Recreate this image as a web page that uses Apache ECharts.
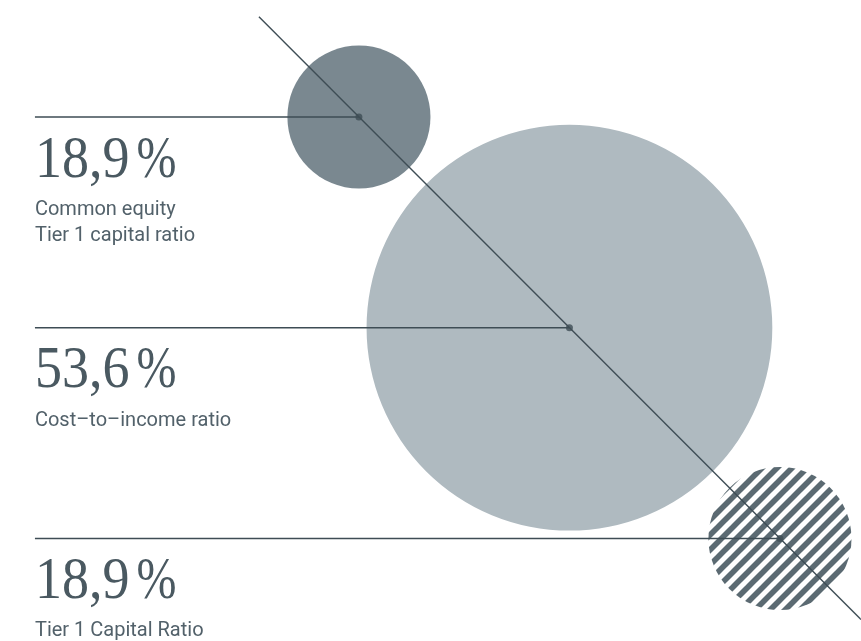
<!DOCTYPE html>
<html><head><meta charset="utf-8">
<script src="https://cdn.jsdelivr.net/npm/echarts@6/dist/echarts.min.js"></script>
<style>html,body{margin:0;padding:0;background:#fff}#c{width:861px;height:641px}</style>
</head><body><div id="c"></div>
<script>
// ---- data ----
const values = [18.9, 53.6, 18.9];
const valueLabels = ['18,9', '53,6', '18,9'];
const names = [['Common equity', 'Tier 1 capital ratio'], ['Cost–to–income ratio'], ['Tier 1 Capital Ratio']];
const steps = [0, 1, 2];

// ---- layout / style ----
const DIAG = [-0.475, 2.385];
const LEADER_X = -1.539;
const PX_PER_PCT = 7.57;
const INK = '#3e4d55';
const NUM_COLOR = '#4a5961';
const NAME_COLOR = '#52616a';
const fills = ['#7a8890', '#afbac0', null];
const NUM_FONT = '60px "Liberation Serif"';
const NUM_SX = 0.9, PCT_SX = 0.8;
const NUM_DY = 44, NAME_DY = 93, NAME_LH = 26;

function stripes() {
  const s = 15, c = document.createElement('canvas');
  c.width = c.height = s;
  const g = c.getContext('2d');
  g.strokeStyle = '#5b6a72';
  g.lineWidth = 5.6;
  for (let k = -2; k <= 2; k++) {
    g.beginPath(); g.moveTo(k * s - s, 2 * s); g.lineTo(k * s + 2 * s, -s); g.stroke();
  }
  return c;
}
const pattern = { image: stripes(), repeat: 'repeat' };
const mctx = document.createElement('canvas').getContext('2d');
mctx.font = NUM_FONT;

const chart = echarts.init(document.getElementById('c'));
const series = [];
series.push({
  type: 'custom', silent: true, z: 1,
  data: steps.map((s, i) => [s, s, values[i]]),
  renderItem: (params, api) => {
    const p = api.coord([api.value(0), api.value(1)]);
    const r = api.value(2) * PX_PER_PCT / 2;
    return { type: 'circle', shape: { cx: p[0], cy: p[1], r }, style: { fill: fills[params.dataIndex] || pattern } };
  }
});
series.push({
  type: 'line', silent: true, z: 3, symbol: 'none',
  data: [[DIAG[0], DIAG[0]], [DIAG[1], DIAG[1]]],
  lineStyle: { color: INK, width: 1.4 }
});
steps.forEach((s, i) => {
  series.push({
    type: 'line', silent: true, z: 3, symbol: 'none',
    data: [[LEADER_X, s], [s, s]],
    lineStyle: { color: INK, width: 1.4 }
  });
});
series.push({
  type: 'scatter', silent: true, z: 4, symbolSize: 7,
  data: steps.map(s => [s, s]),
  itemStyle: { color: INK }
});
series.push({
  type: 'custom', silent: true, z: 5,
  data: steps.map(s => [LEADER_X, s]),
  renderItem: (params, api) => {
    const i = params.dataIndex;
    const p = api.coord([api.value(0), api.value(1)]);
    const w = mctx.measureText(valueLabels[i]).width * NUM_SX;
    const kids = [
      { type: 'text', x: p[0], y: p[1] + NUM_DY, scaleX: NUM_SX,
        style: { text: valueLabels[i], font: NUM_FONT, fill: NUM_COLOR, textAlign: 'left', textVerticalAlign: 'middle' } },
      { type: 'text', x: p[0] + w + 7, y: p[1] + NUM_DY, scaleX: PCT_SX,
        style: { text: '%', font: NUM_FONT, fill: NUM_COLOR, textAlign: 'left', textVerticalAlign: 'middle' } }
    ];
    names[i].forEach((n, j) => kids.push({
      type: 'text', x: p[0], y: p[1] + NAME_DY + j * NAME_LH,
      style: { text: n, font: '20px Roboto', fill: NAME_COLOR, textAlign: 'left', textVerticalAlign: 'middle' }
    }));
    return { type: 'group', children: kids };
  }
});

chart.setOption({
  animation: false,
  grid: { left: 0, right: 0, top: 0, bottom: 0 },
  xAxis: { type: 'value', min: -1.705, max: 2.385, show: false },
  yAxis: { type: 'value', min: -0.555, max: 2.4865, inverse: true, show: false },
  series
});
</script></body></html>
